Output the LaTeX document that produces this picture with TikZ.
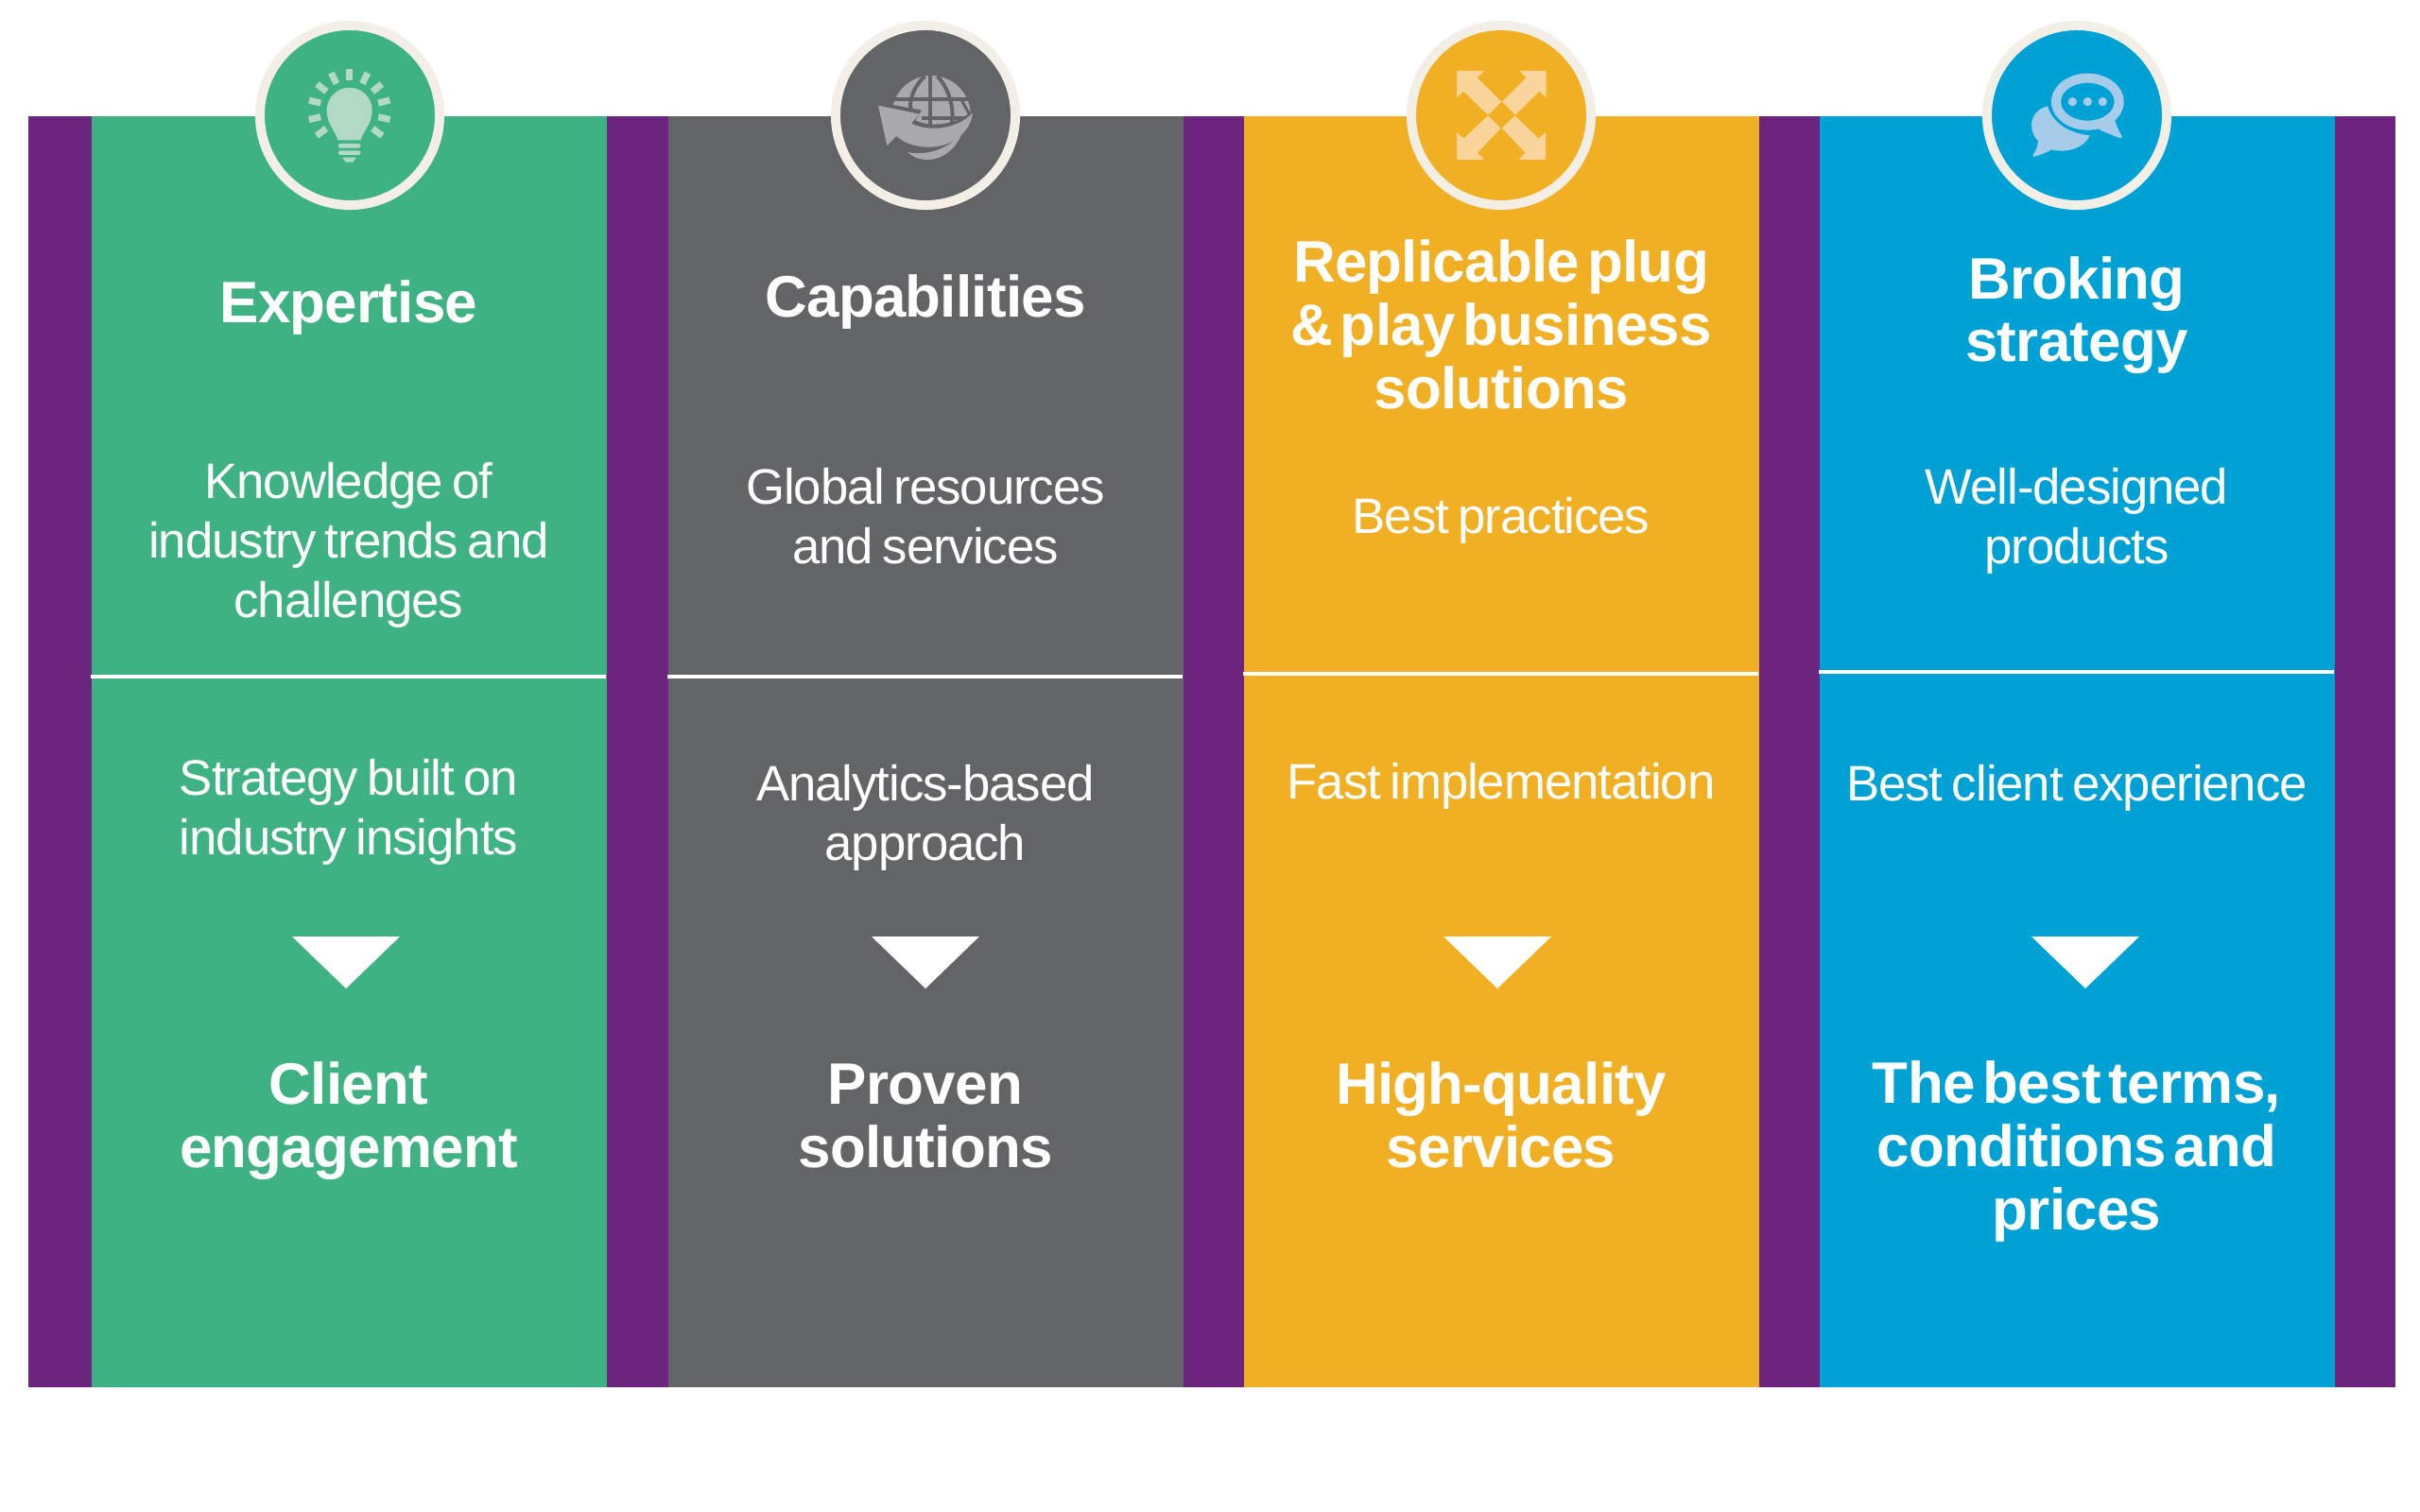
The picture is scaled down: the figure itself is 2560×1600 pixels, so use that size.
\documentclass[tikz,border=0pt]{standalone}
\usepackage{fontspec}
\usepackage{xcolor}
\setmainfont[LetterSpace=-2,WordSpace=0.7]{Liberation Sans}
\newfontfamily\headfont[LetterSpace=-1.2,WordSpace=0.5]{Liberation Sans}
\usetikzlibrary{calc,positioning,shapes}
\definecolor{bandpurple}{RGB}{108,36,126}
\definecolor{pillargreen}{RGB}{63,178,131}
\definecolor{pillargray}{RGB}{99,100,102}
\definecolor{pillaramber}{RGB}{241,176,35}
\definecolor{pillarblue}{RGB}{0,161,213}
\definecolor{ringcream}{RGB}{243,239,231}
\definecolor{icongreen}{RGB}{178,217,197}
\definecolor{icongray}{RGB}{169,169,172}
\definecolor{iconamber}{RGB}{250,213,155}
\definecolor{iconblue}{RGB}{166,204,233}
\newcommand{\pillarColumn}[6]{
    \node[pillar,fill=#3] (COL#1) at (#2, 122) {};
    \coordinate (RULEL#1) at (#2, #4);
    \coordinate (RULER#1) at ($(RULEL#1)+(545,0)$);
    \draw[rulestyle] (RULEL#1) -- (RULER#1);
    \fill[white] (#5-57, 991) -- (#5+57, 991) -- (#5, 1046) -- cycle;
    \node[ring,fill=#3] (RING#1) at (#6, 122) {};
}
\begin{document}
\begin{tikzpicture}[x=0.01cm,y=-0.01cm]
    \tikzstyle{pillar}=[rectangle,anchor=north west,inner sep=0pt,%
    minimum width=5.45cm,minimum height=13.45cm] %
    \tikzstyle{ring}=[circle,draw=ringcream,line width=0.1cm,inner sep=0pt,%
    minimum size=1.9cm] %
    \tikzstyle{rulestyle}=[white,line width=0.045cm] %
    \tikzstyle{head}=[anchor=base,align=center,text=white,inner sep=0pt,%
    font=\headfont\bfseries\fontsize{17.6}{19}\selectfont] %
    \tikzstyle{body}=[anchor=base,align=center,text=white,inner sep=0pt,%
    font=\fontsize{15}{17.9}\selectfont] %

    \useasboundingbox (0,0) rectangle (2560,1600);
    \node[rectangle,fill=bandpurple,anchor=north west,inner sep=0pt,%
    minimum width=25.03cm,minimum height=13.45cm] (BAND) at (29, 122) {};

    \pillarColumn{0}{96}{pillargreen}{716}{366}{370}
    \pillarColumn{1}{706}{pillargray}{716}{979}{979}
    \pillarColumn{2}{1315}{pillaramber}{713}{1584}{1588}
    \pillarColumn{3}{1924}{pillarblue}{711}{2206}{2197}

    \node[head] (TOP0) at (369, 341) {Expertise};
    \node[body] (MID0) at (369, 653) {Knowledge of\\industry trends and\\challenges};
    \node[body] (LOW0) at (369, 904) {Strategy built on\\industry insights};
    \node[head] (END0) at (369, 1235) {Client\\engagement};

    \node[head] (TOP1) at (979, 336) {Capabilities};
    \node[body] (MID1) at (979, 596) {Global resources\\and services};
    \node[body] (LOW1) at (979, 910) {Analytics-based\\approach};
    \node[head] (END1) at (979, 1235) {Proven\\solutions};

    \node[head] (TOP2) at (1588, 432) {Replicable plug\\\& play business\\solutions};
    \node[body] (MID2) at (1588, 564) {Best practices};
    \node[body] (LOW2) at (1588, 845) {Fast implementation};
    \node[head] (END2) at (1588, 1235) {High-quality\\services};

    \node[head] (TOP3) at (2197, 383) {Broking\\strategy};
    \node[body] (MID3) at (2197, 596) {Well-designed\\products};
    \node[body] (LOW3) at (2197, 847) {Best client experience};
    \node[head] (END3) at (2197, 1301) {The best terms,\\conditions and\\prices};

    %% Light bulb
    \begin{scope}[shift={(240,0)},scale=1/3,icongreen]
      \foreach \a in {90,64,39,14,-13,-38,116,141,166,193,218}
        \draw[line width=0.07cm] ($(389,350)+({94*cos(\a)},{-94*sin(\a)})$)
          -- ($(389,350)+({132*cos(\a)},{-132*sin(\a)})$);
      \fill (352,445) .. controls (345,415) and (317,395) .. (317,350)
        .. controls (317,310) and (350,278) .. (389,278)
        .. controls (428,278) and (461,310) .. (461,350)
        .. controls (461,395) and (432,415) .. (425,445) -- cycle;
      \fill[rounded corners=0.02cm] (354,456) rectangle (424,470);
      \fill[rounded corners=0.02cm] (354,478) rectangle (424,492);
      \fill (367,500) -- (411,500) -- (400,515) -- (378,515) -- cycle;
    \end{scope}

    %% Globe and swoosh
    \begin{scope}[shift={(850,0)},scale=1/3,icongray]
      \fill (405,365) circle [radius=125];
      \draw[pillargray,line width=0.04cm] (403,235) -- (403,405);
      \draw[pillargray,line width=0.04cm] (285,315) -- (525,315);
      \draw[pillargray,line width=0.04cm] (375,376) -- (515,376);
      \draw[pillargray,line width=0.04cm] (340,345) .. controls (335,310) and (355,270) .. (385,242);
      \draw[pillargray,line width=0.04cm] (470,395) .. controls (480,340) and (460,280) .. (425,242);
      \draw[pillargray,line width=0.03cm] (500,315) -- (525,360);
      \fill[pillargray] (225,322) -- (375,350) -- (355,382)
        .. controls (400,405) and (490,400) .. (545,342)
        -- (560,520) -- (200,520) -- cycle;
      \fill (237,335) -- (368,362) -- (342,392)
        .. controls (400,420) and (490,410) .. (537,358)
        .. controls (530,420) and (470,470) .. (390,467)
        .. controls (345,465) and (315,450) .. (295,432)
        -- (265,462) -- cycle;
      \fill (330,483) .. controls (380,495) and (460,480) .. (505,415)
        .. controls (490,470) and (440,507) .. (395,507)
        .. controls (365,507) and (345,497) .. (330,483) -- cycle;
    \end{scope}

    %% Expanding arrows
    \begin{scope}[shift={(1460,0)},scale=1/3,iconamber]
      \fill (243,225) -- (330,225) -- (308,247) -- (385,323) -- (342,365) -- (265,290) -- (243,310) -- cycle;
      \fill (527,225) -- (442,225) -- (463,247) -- (387,323) -- (429,365) -- (505,290) -- (527,310) -- cycle;
      \fill (243,507) -- (330,507) -- (308,485) -- (383,407) -- (342,367) -- (265,440) -- (243,420) -- cycle;
      \fill (525,507) -- (440,507) -- (461,485) -- (387,407) -- (427,367) -- (503,440) -- (525,420) -- cycle;
    \end{scope}

    %% Speech bubbles
    \begin{scope}[shift={(2070,0)},scale=1/3,iconblue]
      \fill[even odd rule] (415,323) ellipse [x radius=115,y radius=90]
        (415,323) ellipse [x radius=85,y radius=60];
      \fill (500,375) .. controls (505,395) and (515,420) .. (525,433)
        -- (520,439) .. controls (500,432) and (470,420) .. (450,410) -- cycle;
      \foreach \x in {367,415,463}
        \fill (\x,323) circle [radius=14];
      \fill (288,337) .. controls (255,345) and (237,370) .. (237,398)
        .. controls (237,418) and (246,435) .. (258,448)
        .. controls (256,465) and (250,482) .. (241,492)
        -- (245,498) .. controls (265,492) and (285,484) .. (300,475)
        .. controls (350,487) and (405,470) .. (422,430)
        .. controls (365,425) and (305,395) .. (288,337) -- cycle;
    \end{scope}
\end{tikzpicture}
\end{document}
